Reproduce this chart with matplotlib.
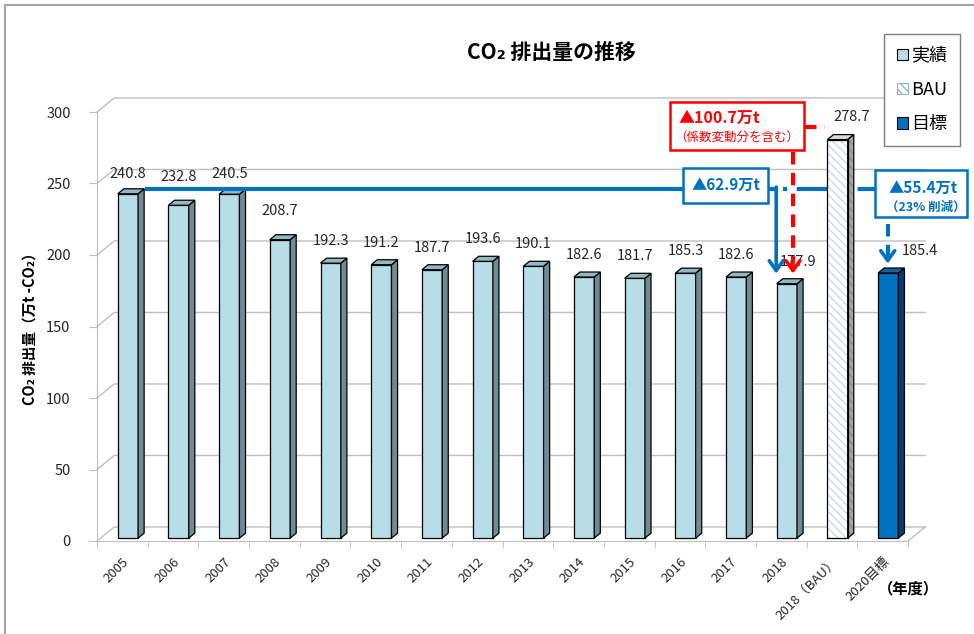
#!/usr/bin/env python3
# -*- coding: utf-8 -*-

import numpy as np
import matplotlib
matplotlib.use('Agg')
import matplotlib.pyplot as plt
from matplotlib.patches import Patch, Rectangle
from matplotlib.lines import Line2D

plt.rcParams['font.family'] = ['Noto Sans CJK JP', 'DejaVu Sans']
plt.rcParams['hatch.linewidth'] = 1.0

#data
#------------------
years = ['2005', '2006', '2007', '2008', '2009', '2010', '2011', '2012', '2013',
         '2014', '2015', '2016', '2017', '2018', '2018（BAU）', '2020目標']
co2 = [240.8, 232.8, 240.5, 208.7, 192.3, 191.2, 187.7, 193.6, 190.1,
       182.6, 181.7, 185.3, 182.6, 177.9, 278.7, 185.4]
kind = ['実績'] * 14 + ['BAU', '目標']

base_line = 246.5      # blue reference level (2005 top)
tip_level = 187.0      # arrow tips above 2018 bar

#colours
#------------------
face = {'実績': '#B7DEE8', 'BAU': 'white', '目標': '#0070C0'}
side = {'実績': '#6E8C92', 'BAU': '#A6A6A6', '目標': '#003F7A'}
top = {'実績': '#93B8C1', 'BAU': '#D9D9D9', '目標': '#1C5E9C'}
blue = '#0070C0'
red = '#FF0000'
grid_c = '#BFBFBF'

#3d-ish geometry (data units)
DX, DY = 0.34, 9.8      # back wall offset
SX, SY = 0.12, 3.5      # bar depth
B0 = 2.0                # bar base above floor front
XSH = 0.11              # bar front shift
W = 0.40

fig = plt.figure(figsize=(9.74, 6.34), dpi=100)
ax = fig.add_axes([97/974, 1-541/634, 811/974, 429/634])
ax.set_xlim(-0.5, 15.5)
ax.set_ylim(0, 300)
ax.set_facecolor('none')

n = len(co2)
xs = np.arange(n)

#back wall grid + floor
for v in range(0, 301, 50):
    ax.plot([-0.5, -0.5+DX, 15.5+DX], [v, v+DY, v+DY], color=grid_c, lw=1, clip_on=False, zorder=0.5)
ax.plot([15.5, 15.5+DX], [0, DY], color=grid_c, lw=1, clip_on=False, zorder=0.5)

#bars
for i in range(n):
    k = kind[i]
    x0 = xs[i] + XSH - W/2
    x1 = x0 + W
    y0 = B0
    y1 = B0 + co2[i]
    fx = [x0, x1, x1, x0]
    fy = [y0, y0, y1, y1]
    sx = [x1, x1+SX, x1+SX, x1]
    sy = [y0, y0+SY, y1+SY, y1]
    tx = [x0, x1, x1+SX, x0+SX]
    ty = [y1, y1, y1+SY, y1+SY]
    if k == 'BAU':
        ax.fill(fx, fy, facecolor='white', edgecolor='#C5DCEF', hatch='\\\\\\\\', lw=0, zorder=2)
        ax.fill(sx, sy, facecolor=side[k], edgecolor='#8C8C8C', hatch='\\\\\\\\', lw=0, zorder=2)
        ax.fill(fx, fy, facecolor='none', edgecolor='black', lw=0.9, zorder=2.1)
        ax.fill(sx, sy, facecolor='none', edgecolor='black', lw=0.9, zorder=2.1)
    else:
        ax.fill(fx, fy, facecolor=face[k], edgecolor='black', lw=0.9, zorder=2)
        ax.fill(sx, sy, facecolor=side[k], edgecolor='black', lw=0.9, zorder=2)
    ax.fill(tx, ty, facecolor=top[k], edgecolor='black', lw=0.9, zorder=2)

#value labels
lbl_dy = {0: 14, 1: 20, 2: 14, 3: 20}
lbl_dx = {13: 0.22, 14: 0.28, 15: 0.63}
for i in range(n):
    ax.text(xs[i] + XSH + lbl_dx.get(i, 0), co2[i] + B0 + lbl_dy.get(i, 15.5), f'{co2[i]:.1f}',
            ha='center', va='center', fontsize=10.5, color='#262626', zorder=3)

#axes styling
for s in ['top', 'right']:
    ax.spines[s].set_visible(False)
ax.spines['left'].set_color(grid_c)
ax.spines['bottom'].set_color(grid_c)
ax.set_yticks(range(0, 301, 50))
ax.tick_params(axis='y', length=6, color=grid_c, pad=13, labelsize=10.5, labelcolor='#262626')
ax.set_xticks(xs)
ax.set_xticklabels(years)
ax.set_xticks(np.arange(-0.5, 15.6, 1), minor=True)
ax.tick_params(axis='x', which='major', length=0, pad=10, labelsize=9.5, labelcolor='#262626')
ax.tick_params(axis='x', which='minor', length=5, color=grid_c)
plt.setp(ax.get_xticklabels(), rotation=45, ha='right', va='top', rotation_mode='anchor')

#blue: actual reduction
ax.plot([0.45, 12.9], [base_line, base_line], color=blue, lw=3, solid_capstyle='butt', zorder=4)
ax.annotate('', xy=(12.9, tip_level), xytext=(12.9, base_line + 1),
            arrowprops=dict(arrowstyle='->,head_length=0.7,head_width=0.5', lw=2.6, color=blue,
                            shrinkA=0, shrinkB=0), zorder=4)
ax.plot([13.03, 14.85], [base_line, base_line], color=blue, lw=3, dashes=(1, 2.3, 9, 2.3),
        zorder=1.5, clip_on=False)
ax.add_patch(Rectangle((11.06, 236.4), 1.68, 24.4, facecolor='white', edgecolor=blue, lw=1.8,
                       zorder=5, clip_on=False))
ax.text(11.90, 249, '▲62.9万t', color=blue, fontsize=11, fontweight='bold', ha='center', va='center', zorder=6)

#blue: target reduction
ax.add_patch(Rectangle((14.85, 226.6), 1.81, 32.8, facecolor='white', edgecolor=blue, lw=1.8,
                       zorder=5, clip_on=False))
ax.text(15.80, 247, '▲55.4万t', color=blue, fontsize=11, fontweight='bold', ha='center', va='center', zorder=6)
ax.text(15.86, 233.4, '（23% 削減）', color=blue, fontsize=9, fontweight='bold', ha='center', va='center', zorder=6)
ax.plot([15.1, 15.1], [222, 200], color=blue, lw=3, dashes=(3, 2), zorder=4)
ax.annotate('', xy=(15.1, 194), xytext=(15.1, 204),
            arrowprops=dict(arrowstyle='->,head_length=0.7,head_width=0.5', lw=2.6, color=blue,
                            shrinkA=0, shrinkB=0), zorder=4)

#red: vs BAU
ax.add_patch(Rectangle((10.80, 273.4), 2.65, 33.6, facecolor='white', edgecolor=red, lw=1.8,
                       zorder=5, clip_on=False))
ax.text(11.77, 296, '▲100.7万t', color=red, fontsize=11.5, fontweight='bold', ha='center', va='center', zorder=6)
ax.text(12.13, 282.3, '（係数変動分を含む）', color=red, fontsize=9, ha='center', va='center', zorder=6)
ax.plot([13.45, 13.86], [289.5, 289.5], color=red, lw=3, dashes=(3, 2), zorder=4)
ax.plot([13.23, 13.23], [272, 196], color=red, lw=3, dashes=(3, 2), zorder=4)
ax.annotate('', xy=(13.23, tip_level), xytext=(13.23, 198),
            arrowprops=dict(arrowstyle='->,head_length=0.7,head_width=0.5', lw=2.6, color=red,
                            shrinkA=0, shrinkB=0), zorder=4)

#legend
handles = [Patch(facecolor=face['実績'], edgecolor='black', lw=0.8),
           Patch(facecolor='white', edgecolor='#8FB4D9', hatch='\\\\\\\\', lw=0.8),
           Patch(facecolor=face['目標'], edgecolor='black', lw=0.8)]
leg = fig.legend(handles, ['実績', 'BAU', '目標'], loc='upper right', bbox_to_anchor=(969/974, 1-25/634),
                 fontsize=13, handlelength=0.6, handleheight=0.6, handletextpad=0.2,
                 labelspacing=0.9, borderpad=0.7, fancybox=False, framealpha=1, edgecolor='#7F7F7F')
leg.get_frame().set_linewidth(1.0)
leg.set_zorder(10)

#texts
fig.text(551/974, 1-52/634, 'CO₂ 排出量の推移', fontsize=15, fontweight='bold', ha='center', va='center')
fig.text(30/974, 1-325/634, 'CO₂ 排出量（万t -CO₂）', fontsize=10.5, fontweight='bold',
         rotation=90, ha='center', va='center')
fig.text(908/974, 1-588/634, '（年度）', fontsize=11, fontweight='bold', ha='center', va='center')

#outer border
fig.add_artist(Line2D([5/974, 1], [1-5/634, 1-5/634], color='#A6A6A6', lw=1.5))
fig.add_artist(Line2D([5/974, 5/974], [0, 1-5/634], color='#A6A6A6', lw=1.5))

fig.savefig('out.png', dpi=100)
